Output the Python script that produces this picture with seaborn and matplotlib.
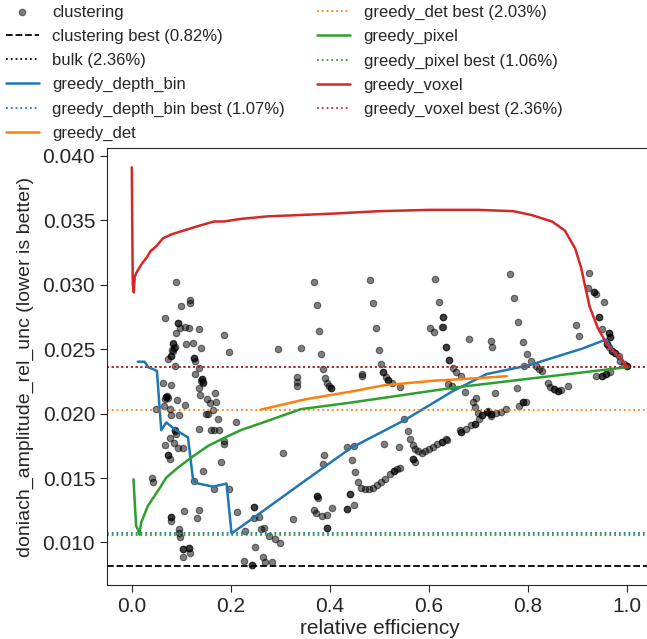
import pandas as pd
import numpy as np
import matplotlib
matplotlib.use('Agg')
import matplotlib.pyplot as plt
import seaborn as sns

# clustering runs (relative efficiency, doniach_amplitude_rel_unc)
clustering_left = [
    (0.0885, 0.03018), (0.100, 0.02837), (0.118, 0.02881), (0.118, 0.02855),
    (0.0676, 0.02741), (0.0933, 0.02702), (0.0966, 0.02661), (0.0899, 0.02625),
    (0.108, 0.02669), (0.116, 0.02661), (0.135, 0.02656), (0.187, 0.02612),
    (0.196, 0.0248), (0.083, 0.02547), (0.0865, 0.02513), (0.083, 0.02487),
    (0.0797, 0.02443), (0.073, 0.02423), (0.110, 0.02542), (0.124, 0.02547),
    (0.139, 0.02508), (0.126, 0.02428), (0.128, 0.0241), (0.0879, 0.02366),
    (0.135, 0.02353), (0.127, 0.02304), (0.141, 0.02267), (0.144, 0.02241),
    (0.136, 0.0220), (0.064, 0.02234), (0.0784, 0.02223), (0.0696, 0.0213),
    (0.073, 0.0212), (0.0676, 0.0211), (0.137, 0.02143), (0.167, 0.02159),
    (0.151, 0.0211), (0.157, 0.02078), (0.171, 0.02086), (0.0912, 0.02104),
    (0.108, 0.02065), (0.066, 0.0206), (0.049, 0.02034), (0.0764, 0.02034),
    (0.164, 0.02029), (0.0797, 0.0199), (0.0946, 0.0199), (0.149, 0.0200),
    (0.154, 0.0200), (0.174, 0.01957), (0.210, 0.01938), (0.135, 0.01884),
    (0.159, 0.01871), (0.166, 0.01871), (0.176, 0.01871), (0.0764, 0.01814),
    (0.0865, 0.01866), (0.090, 0.0184), (0.0676, 0.01755), (0.085, 0.01775),
    (0.093, 0.01731), (0.104, 0.01729), (0.187, 0.01788), (0.187, 0.01762),
    (0.073, 0.01679), (0.0764, 0.01651), (0.181, 0.01625), (0.143, 0.01552),
    (0.0405, 0.01503), (0.0426, 0.01472), (0.125, 0.01475), (0.165, 0.01418),
    (0.197, 0.01418), (0.1054, 0.01242), (0.136, 0.01255), (0.1325, 0.0119),
    (0.0797, 0.0120), (0.0797, 0.01164), (0.213, 0.01237), (0.0953, 0.01107),
    (0.0953, 0.01076), (0.0966, 0.01042), (0.229, 0.01086), (0.1034, 0.00951),
    (0.1156, 0.00959), (0.118, 0.0092), (0.1034, 0.00889), (0.227, 0.00853),
    # stacked runs (darker spots)
    (0.0696, 0.0213), (0.071, 0.0214), (0.083, 0.0254), (0.085, 0.0251),
    (0.082, 0.0249), (0.141, 0.0227), (0.139, 0.0225), (0.0933, 0.0270),
    (0.144, 0.0224), (0.0865, 0.0187), (0.073, 0.0168), (0.0797, 0.0120),
    (0.1034, 0.0095), (0.1156, 0.0096), (0.126, 0.0243), (0.0797, 0.02443),
]

clustering_mid = [
    (0.368, 0.03024), (0.373, 0.02842), (0.377, 0.02643), (0.381, 0.02462),
    (0.385, 0.02345), (0.389, 0.02275), (0.394, 0.02236), (0.398, 0.0221),
    (0.402, 0.02195), (0.2955, 0.0250), (0.341, 0.02506), (0.333, 0.0228),
    (0.333, 0.02242), (0.334, 0.0221), (0.480, 0.03037), (0.487, 0.02855),
    (0.492, 0.02661), (0.498, 0.02493), (0.503, 0.02384), (0.508, 0.02324),
    (0.513, 0.0228), (0.518, 0.0226), (0.525, 0.0224), (0.464, 0.0231),
    (0.464, 0.02293), (0.542, 0.02203), (0.613, 0.03044), (0.620, 0.02863),
    (0.629, 0.02746), (0.627, 0.02674), (0.601, 0.02661), (0.611, 0.0263),
    (0.634, 0.02513), (0.640, 0.02418), (0.550, 0.01956), (0.557, 0.01866),
    (0.561, 0.01801), (0.567, 0.01755), (0.572, 0.01723), (0.577, 0.01708),
    (0.586, 0.01697), (0.592, 0.0171), (0.600, 0.01723), (0.608, 0.01741),
    (0.617, 0.01762), (0.626, 0.0178), (0.636, 0.01796), (0.568, 0.01646),
    (0.571, 0.01628), (0.510, 0.01762), (0.539, 0.01744), (0.435, 0.01742),
    (0.449, 0.01749), (0.444, 0.01641), (0.450, 0.01547), (0.456, 0.01472),
    (0.463, 0.01426), (0.471, 0.01413), (0.479, 0.01413), (0.487, 0.01426),
    (0.495, 0.01444), (0.503, 0.0147), (0.512, 0.01496), (0.522, 0.01529),
    (0.529, 0.01555), (0.535, 0.01568), (0.541, 0.01576), (0.387, 0.01677),
    (0.386, 0.01612), (0.305, 0.01692), (0.373, 0.01361), (0.375, 0.01348),
    (0.440, 0.01374), (0.449, 0.01288), (0.435, 0.01262), (0.404, 0.0127),
    (0.368, 0.01252), (0.371, 0.01231), (0.383, 0.01205), (0.394, 0.01213),
    (0.394, 0.01109), (0.325, 0.01182), (0.2475, 0.01278), (0.246, 0.01192),
    (0.256, 0.0120), (0.260, 0.01107), (0.2665, 0.01115), (0.277, 0.0105),
    (0.290, 0.0103), (0.299, 0.00998), (0.248, 0.00965), (0.265, 0.0089),
    (0.269, 0.00848), (0.283, 0.00851), (0.2428, 0.00825),
    # stacked runs
    (0.2475, 0.01278), (0.373, 0.01361), (0.440, 0.01374), (0.435, 0.01262),
    (0.394, 0.01109), (0.508, 0.02324), (0.518, 0.0226), (0.402, 0.02195),
    (0.529, 0.01555), (0.568, 0.01646), (0.2428, 0.00825),
]

clustering_right = [
    (0.764, 0.0308), (0.771, 0.02897), (0.780, 0.02713), (0.789, 0.02552),
    (0.797, 0.02462), (0.806, 0.02405), (0.815, 0.02366), (0.821, 0.02345),
    (0.828, 0.02327), (0.792, 0.02371), (0.726, 0.02565), (0.727, 0.02518),
    (0.681, 0.02578), (0.634, 0.02513), (0.641, 0.02415), (0.649, 0.02353),
    (0.629, 0.02746), (0.629, 0.02674), (0.655, 0.0232), (0.664, 0.02288),
    (0.638, 0.02229), (0.646, 0.02216), (0.672, 0.0217), (0.733, 0.02159),
    (0.777, 0.02195), (0.840, 0.02234), (0.844, 0.02203), (0.853, 0.0219),
    (0.861, 0.02177), (0.867, 0.02182), (0.880, 0.02213), (0.695, 0.02117),
    (0.689, 0.02091), (0.692, 0.02047), (0.698, 0.02003), (0.706, 0.01988),
    (0.716, 0.02009), (0.726, 0.01996), (0.736, 0.02003), (0.745, 0.02014),
    (0.755, 0.02034), (0.700, 0.01957), (0.692, 0.01918), (0.684, 0.01913),
    (0.675, 0.0188), (0.665, 0.01858), (0.662, 0.01871), (0.782, 0.0206),
    (0.790, 0.02086), (0.795, 0.02091), (0.718, 0.02022), (0.725, 0.01983),
    (0.635, 0.01801), (0.627, 0.0178), (0.922, 0.03091), (0.920, 0.02972),
    (0.933, 0.02941), (0.936, 0.02928), (0.953, 0.02863), (0.944, 0.02747),
    (0.897, 0.0269), (0.902, 0.02599), (0.949, 0.02656), (0.963, 0.02625),
    (0.966, 0.02596), (0.959, 0.0254), (0.963, 0.02514), (0.969, 0.02488),
    (0.976, 0.02467), (0.983, 0.02449), (0.986, 0.0241), (0.993, 0.02384),
    (1.000, 0.02371), (0.937, 0.02288), (0.949, 0.02293), (0.957, 0.02306),
    (0.966, 0.02324),
    # stacked runs
    (0.933, 0.02941), (0.944, 0.02747), (0.963, 0.02625), (0.966, 0.02596),
    (0.959, 0.0254), (0.969, 0.02488), (0.976, 0.02467), (1.000, 0.02371),
    (0.949, 0.02293), (0.957, 0.02306), (0.706, 0.01988), (0.716, 0.02009),
    (0.726, 0.01996), (0.790, 0.02086), (0.853, 0.0219), (0.861, 0.02177),
    (0.665, 0.01858), (0.692, 0.01918),
]

# greedy curves
depth_bin_x = [0.0121, 0.0257, 0.0338, 0.0426, 0.0507, 0.0595, 0.0696, 0.0865,
               0.1135, 0.1237, 0.1338, 0.164, 0.1913, 0.2014, 0.2555, 0.35,
               0.442, 0.552, 0.648, 0.716, 0.799, 0.908, 0.957, 0.97, 0.99, 1.0]
depth_bin_y = [0.02402, 0.02402, 0.02358, 0.02345, 0.02332, 0.01871, 0.01931, 0.01879,
               0.01814, 0.01485, 0.01457, 0.01433, 0.01457, 0.0107, 0.01218, 0.0148,
               0.01732, 0.01952, 0.02174, 0.02306, 0.02372, 0.02502, 0.02574, 0.0249,
               0.0241, 0.0236]

det_x = [0.26, 0.35, 0.442, 0.51, 0.614, 0.70, 0.757]
det_y = [0.0203, 0.0211, 0.0217, 0.0222, 0.02256, 0.02275, 0.0229]

pixel_x = [0.0034, 0.0088, 0.0121, 0.0155, 0.0189, 0.0324, 0.0527, 0.0696,
           0.0933, 0.1203, 0.154, 0.1879, 0.2217, 0.2555, 0.341, 0.442,
           0.55, 0.648, 0.819, 1.0]
pixel_y = [0.0149, 0.01128, 0.01102, 0.0106, 0.01154, 0.01283, 0.0140, 0.01503,
           0.01581, 0.01659, 0.01749, 0.01814, 0.01874, 0.01918, 0.02034, 0.02085,
           0.02145, 0.0220, 0.02278, 0.0236]

voxel_x = [0.0, 0.002, 0.004, 0.006, 0.009, 0.012, 0.02, 0.03, 0.038, 0.05,
           0.063, 0.08, 0.105, 0.13, 0.166, 0.186, 0.22, 0.275, 0.34, 0.4,
           0.5, 0.6, 0.7, 0.77, 0.807, 0.848, 0.874, 0.895, 0.907, 0.924,
           0.941, 0.962, 0.985, 1.0]
voxel_y = [0.0391, 0.0300, 0.0294, 0.0306, 0.0309, 0.0311, 0.0316, 0.0321, 0.0326, 0.0330,
           0.0336, 0.0339, 0.0342, 0.0345, 0.0349, 0.0349, 0.0351, 0.0353, 0.0354, 0.0355,
           0.0357, 0.0358, 0.0358, 0.0357, 0.0354, 0.0349, 0.0342, 0.0328, 0.0313, 0.0283,
           0.0266, 0.0252, 0.0244, 0.0236]

# best values (horizontal references)
best_labels = ['clustering best (0.82%)', 'bulk (2.36%)', 'greedy_depth_bin best (1.07%)',
               'greedy_det best (2.03%)', 'greedy_pixel best (1.06%)', 'greedy_voxel best (2.36%)']
best_values = [0.0082, 0.0236, 0.0107, 0.0203, 0.0106, 0.0236]

sns.set_style('ticks')
plt.rcParams['font.family'] = ['Liberation Sans', 'DejaVu Sans']

fig = plt.figure(figsize=(6.47, 6.39), dpi=100)
ax = fig.add_axes([107 / 647, 54 / 639, 545 / 647, 437 / 639])

clus = pd.DataFrame(clustering_left + clustering_mid + clustering_right, columns=['eff', 'unc'])
sns.scatterplot(data=clus, x='eff', y='unc', color='k', alpha=0.5, edgecolor='k',
                linewidth=0.8, s=22, ax=ax, label='clustering', zorder=2)

blue, orange, green, red = sns.color_palette('tab10')[:4]

ax.axhline(best_values[0], color='k', ls='--', lw=1.3, label=best_labels[0])
ax.axhline(best_values[1], color='k', ls=':', lw=1.3, label=best_labels[1])

curves = [
    ('greedy_depth_bin', depth_bin_x, depth_bin_y, blue, 2),
    ('greedy_det', det_x, det_y, orange, 3),
    ('greedy_pixel', pixel_x, pixel_y, green, 4),
    ('greedy_voxel', voxel_x, voxel_y, red, 5),
]
for name, xs, ys, col, bi in curves:
    df = pd.DataFrame({'eff': xs, 'unc': ys})
    sns.lineplot(data=df, x='eff', y='unc', color=col, lw=1.8, ax=ax,
                 estimator=None, sort=False, label=name)
    ax.axhline(best_values[bi], color=col, ls=':', lw=1.3, label=best_labels[bi])

ax.set_xlim(-0.05, 1.05)
ax.set_ylim(0.0067, 0.0406)
ax.set_xticks([0.0, 0.2, 0.4, 0.6, 0.8, 1.0])
ax.set_yticks([0.010, 0.015, 0.020, 0.025, 0.030, 0.035, 0.040])
ax.tick_params(labelsize=15, length=5)
ax.set_xlabel('relative efficiency', fontsize=15, labelpad=2)
ax.set_ylabel('doniach_amplitude_rel_unc (lower is better)', fontsize=14, labelpad=6)

handles, labels = ax.get_legend_handles_labels()
ax.legend(handles, labels, ncol=2, frameon=False, fontsize=12,
          loc='upper left', bbox_to_anchor=(-107 / 545, 1 + 149 / 437),
          borderaxespad=0, borderpad=0.35, labelspacing=0.55, columnspacing=1.9)

fig.savefig('out.png', dpi=100)
